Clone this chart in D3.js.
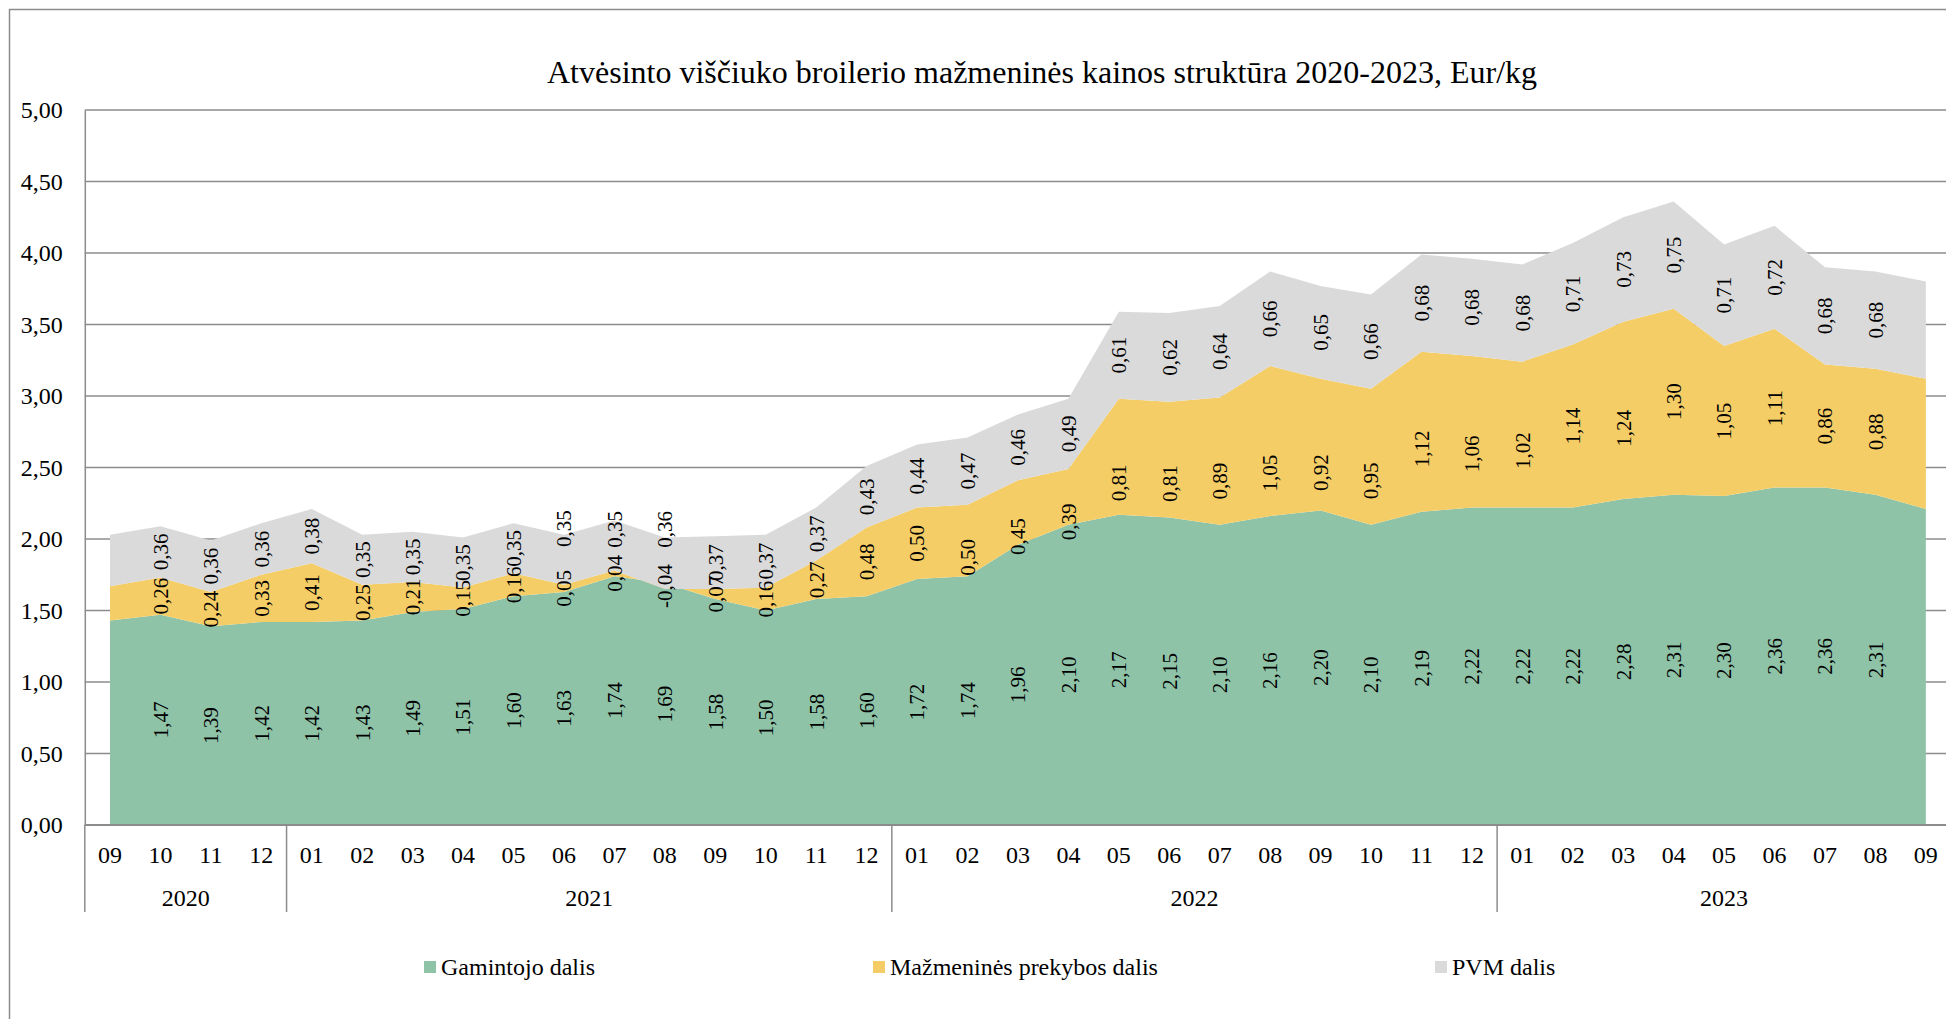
<!DOCTYPE html>
<html>
<head>
<meta charset="utf-8">
<script src="https://cdn.jsdelivr.net/npm/d3@7"></script>
<style>
  body { margin: 0; background: #fff; }
  svg { display: block; }
  text { font-family: "Liberation Serif", "Times New Roman", serif; fill: #000; }
</style>
</head>
<body>
<div id="chart"></div>
<script>
// months, 2020-09 .. 2023-09
var months = ["09","10","11","12",
  "01","02","03","04","05","06","07","08","09","10","11","12",
  "01","02","03","04","05","06","07","08","09","10","11","12",
  "01","02","03","04","05","06","07","08","09"];
var years = [
  { year: "2020", start: 0, end: 4 },
  { year: "2021", start: 4, end: 16 },
  { year: "2022", start: 16, end: 28 },
  { year: "2023", start: 28, end: 37 }
];
var yTicks = [0, 0.5, 1, 1.5, 2, 2.5, 3, 3.5, 4, 4.5, 5];

var gamintojo = [1.43, 1.47, 1.39, 1.42,
  1.42, 1.43, 1.49, 1.51, 1.60, 1.63, 1.74, 1.69, 1.58, 1.50, 1.58, 1.60,
  1.72, 1.74, 1.96, 2.10, 2.17, 2.15, 2.10, 2.16, 2.20, 2.10, 2.19, 2.22,
  2.22, 2.22, 2.28, 2.31, 2.30, 2.36, 2.36, 2.31, 2.21];
var prekyba = [0.24, 0.26, 0.24, 0.33,
  0.41, 0.25, 0.21, 0.15, 0.16, 0.05, 0.04, -0.04, 0.07, 0.16, 0.27, 0.48,
  0.50, 0.50, 0.45, 0.39, 0.81, 0.81, 0.89, 1.05, 0.92, 0.95, 1.12, 1.06,
  1.02, 1.14, 1.24, 1.30, 1.05, 1.11, 0.86, 0.88, 0.91];
var pvm = [0.36, 0.36, 0.36, 0.36,
  0.38, 0.35, 0.35, 0.35, 0.35, 0.35, 0.35, 0.36, 0.37, 0.37, 0.37, 0.43,
  0.44, 0.47, 0.46, 0.49, 0.61, 0.62, 0.64, 0.66, 0.65, 0.66, 0.68, 0.68,
  0.68, 0.71, 0.73, 0.75, 0.71, 0.72, 0.68, 0.68, 0.68];

var seriesNames = ["Gamintojo dalis", "Mažmeninės prekybos dalis", "PVM dalis"];
var colors = ["#8ec3a8", "#f5cd66", "#dadada"];

// hand-moved data labels in the original (pixel nudges, by series then month index)
var labelNudge = [
  {},
  { 17: 17, 18: 24, 19: 25, 20: 26, 21: 24, 22: 20, 23: 32, 24: 28, 25: 24, 26: 17, 27: 22, 28: 16, 30: 18 },
  { 9: -31, 10: -16, 11: -34 }
];

var W = 1946, H = 1019;
var plotLeft = 84.8, bandW = 50.44;
var plotTop = 110, plotBottom = 825;

function fmt(v) {
  return d3.format(".2f")(v).replace(".", ",").replace("\u2212", "-");
}

var svg = d3.select("#chart").append("svg")
    .attr("width", W)
    .attr("height", H);

// outer chart border (runs off the page right and bottom)
svg.append("rect")
    .attr("x", 9.5).attr("y", 9.5)
    .attr("width", W + 50).attr("height", H + 50)
    .attr("fill", "none")
    .attr("stroke", "#8c8c8c")
    .attr("stroke-width", 1.5);

var table = months.map(function(m, i) {
  return { i: i, a: gamintojo[i], b: prekyba[i], c: pvm[i] };
});

var x = d3.scaleBand()
    .domain(d3.range(months.length))
    .range([plotLeft, plotLeft + bandW * months.length]);
var y = d3.scaleLinear().domain([0, 5]).range([plotBottom, plotTop]);

function cx(i) { return x(i) + x.bandwidth() / 2; }

// gridlines
svg.append("g")
  .selectAll("line")
  .data(yTicks.slice(1))
  .enter().append("line")
    .attr("x1", plotLeft).attr("x2", W + 10)
    .attr("y1", function(d) { return y(d); })
    .attr("y2", function(d) { return y(d); })
    .attr("stroke", "#8c8c8c")
    .attr("stroke-width", 1.5);

// y axis
var yAxis = svg.append("g")
    .attr("transform", "translate(" + plotLeft + ",0)")
    .call(d3.axisLeft(y).tickValues(yTicks).tickSize(0).tickPadding(22).tickFormat(fmt));
yAxis.select(".domain").attr("stroke", "#8c8c8c").attr("stroke-width", 1.5);
yAxis.selectAll("text").style("font-size", "24px")
    .style("font-family", "'Liberation Serif', 'Times New Roman', serif");

// stacked areas
var stack = d3.stack().keys(["a", "b", "c"]);
var layers = stack(table);

var area = d3.area()
    .x(function(d) { return cx(d.data.i); })
    .y0(function(d) { return y(d[0]); })
    .y1(function(d) { return y(d[1]); });

svg.append("g")
  .selectAll("path")
  .data(layers)
  .enter().append("path")
    .attr("d", area)
    .attr("fill", function(d, i) { return colors[i]; });

// category axis line
svg.append("line")
    .attr("x1", plotLeft).attr("x2", W + 10)
    .attr("y1", plotBottom).attr("y2", plotBottom)
    .attr("stroke", "#8c8c8c")
    .attr("stroke-width", 2);

// data labels (none on first and last month)
layers.forEach(function(layer, s) {
  svg.append("g")
    .selectAll("text")
    .data(layer.filter(function(d) { return d.data.i > 0 && d.data.i < months.length - 1; }))
    .enter().append("text")
      .attr("transform", function(d) {
        var ly = y((d[0] + d[1]) / 2) + (labelNudge[s][d.data.i] || 0);
        return "translate(" + cx(d.data.i) + "," + ly + ") rotate(-90)";
      })
      .attr("text-anchor", "middle")
      .attr("dy", "0.35em")
      .style("font-size", "21px")
      .text(function(d) { return fmt(d[1] - d[0]); });
});

// month labels
svg.append("g")
  .selectAll("text")
  .data(months)
  .enter().append("text")
    .attr("x", function(d, i) { return cx(i); })
    .attr("y", 863)
    .attr("text-anchor", "middle")
    .style("font-size", "24px")
    .text(function(d) { return d; });

// year labels and separators
svg.append("g")
  .selectAll("text")
  .data(years)
  .enter().append("text")
    .attr("x", function(d) { return (x(d.start) + x(d.end - 1) + x.bandwidth()) / 2; })
    .attr("y", 906)
    .attr("text-anchor", "middle")
    .style("font-size", "24px")
    .text(function(d) { return d.year; });

var seps = [0].concat(years.map(function(d) { return d.end; }));
svg.append("g")
  .selectAll("line")
  .data(seps)
  .enter().append("line")
    .attr("x1", function(d) { return plotLeft + d * bandW; })
    .attr("x2", function(d) { return plotLeft + d * bandW; })
    .attr("y1", plotBottom).attr("y2", 912)
    .attr("stroke", "#8c8c8c")
    .attr("stroke-width", 1.5);

// title
svg.append("text")
    .attr("x", 1042)
    .attr("y", 83)
    .attr("text-anchor", "middle")
    .style("font-size", "32px")
    .text("Atvėsinto viščiuko broilerio mažmeninės kainos struktūra 2020-2023, Eur/kg");

// legend
var legendX = [424, 873, 1435];
var legend = svg.append("g")
  .selectAll("g")
  .data(seriesNames)
  .enter().append("g")
    .attr("transform", function(d, i) { return "translate(" + legendX[i] + ",961)"; });
legend.append("rect")
    .attr("width", 12).attr("height", 12)
    .attr("fill", function(d, i) { return colors[i]; });
legend.append("text")
    .attr("x", 17)
    .attr("y", 14)
    .style("font-size", "24px")
    .text(function(d) { return d; });
</script>
</body>
</html>
